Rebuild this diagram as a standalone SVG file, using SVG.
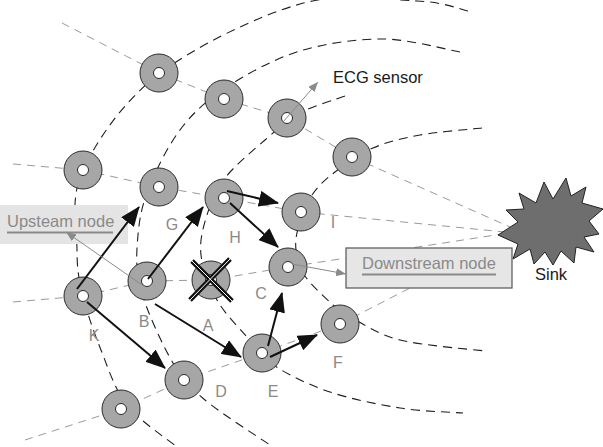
<svg xmlns="http://www.w3.org/2000/svg" width="603" height="447" viewBox="0 0 603 447">
<style>
.radial{fill:none;stroke:#9a9a9a;stroke-width:1;stroke-dasharray:8 6}
.arc{fill:none;stroke:#1e1e1e;stroke-width:1.1;stroke-dasharray:9 6}
.outer{fill:#a6a6a6;stroke:#2a2a2a;stroke-width:1}
.inner{fill:#fff;stroke:#2a2a2a;stroke-width:1}
.blk{fill:none;stroke:#111;stroke-width:2;marker-end:url(#bh)}
.gry{fill:none;stroke:#8a8a8a;stroke-width:1;marker-end:url(#gh)}
.lbl{font-family:"Liberation Sans",Arial,sans-serif;font-size:16px;fill:#8a8a8a;text-anchor:middle}
.txt{font-family:"Liberation Sans",Arial,sans-serif;font-size:16.5px}
</style>
<defs>
<marker id="bh" markerUnits="userSpaceOnUse" viewBox="0 0 20 16" markerWidth="20" markerHeight="16" refX="19" refY="8" orient="auto">
<path d="M0,0 L20,8 L0,16 Z" fill="#111"/>
</marker>
<marker id="gh" markerUnits="userSpaceOnUse" viewBox="0 0 10 8" markerWidth="10" markerHeight="8" refX="10" refY="4" orient="auto">
<path d="M0,0 L10,4 L0,8 Z" fill="#8a8a8a"/>
</marker>
<g id="nd">
<circle r="19" class="outer"/>
<circle r="5.5" class="inner"/>
</g>
</defs>

<g id="background-lines">
<polyline class="radial" points="62,23 159,73 224,99 287,118 352,157 510,227"/>
<polyline class="radial" points="13,164 83,170 159,187 224,198 301,212 505,232"/>
<polyline class="radial" points="13,302 83,296 147,281 211,280 288,267 502,234"/>
<polyline class="radial" points="25,440 121,409 184,380 262,353 340,324 410,288"/>
<path class="arc" d="M468,11 C459.5,9.3 445,2.2 417,1 C389,-0.2 343,-8.2 300,4 C257,16.2 195.2,46.3 159,74 C122.8,101.7 96.7,140.7 83,170 C69.3,199.3 77,229 77,250 C77,271 79,279.3 83,296 C87,312.7 93.7,331.8 101,350 C108.3,368.2 114.3,388.8 127,405 C139.7,421.2 168.7,440 177,447"/>
<path class="arc" d="M460,52 C447.2,49.8 409.7,39.2 383,39 C356.3,38.8 325.5,43.3 300,51 C274.5,58.7 249.5,72.5 230,85 C210.5,97.5 196.3,109.3 183,126 C169.7,142.7 157.5,166.8 150,185 C142.5,203.2 139.5,217.5 138,235 C136.5,252.5 135.2,268.7 141,290 C146.8,311.3 162.3,344.7 173,363 C183.7,381.3 188.3,386 205,400 C221.7,414 261.7,439.2 273,447"/>
<path class="arc" d="M345,96 C337.5,98.8 313.3,105.7 300,113 C286.7,120.3 277.5,129.2 265,140 C252.5,150.8 234.7,165.5 225,178 C215.3,190.5 211,202.2 207,215 C203,227.8 199.3,240.8 201,255 C202.7,269.2 209.3,286.3 217,300 C224.7,313.7 237.3,326 247,337 C256.7,348 261.2,356.8 275,366 C288.8,375.2 309.2,385 330,392 C350.8,399 377.8,404.5 400,408 C422.2,411.5 452.5,412.2 463,413"/>
<path class="arc" d="M482,128 C471.7,129.2 438.2,131.7 420,135 C401.8,138.3 387.2,141.8 373,148 C358.8,154.2 345.2,164.2 335,172 C324.8,179.8 318,186.2 312,195 C306,203.8 301.7,215.8 299,225 C296.3,234.2 295,241.5 296,250 C297,258.5 298.8,266.8 305,276 C311.2,285.2 325.2,297.7 333,305 C340.8,312.3 345,315 352,318 C363.2,323.8 377.8,334.5 400,340 C422.2,345.5 470.8,349.2 485,351"/>
</g>

<g id="upstream-box">
<rect x="0" y="205" width="128" height="39" fill="#e4e4e4"/>
<text class="txt" x="7" y="227" fill="#8a8a8a">Upsteam node</text>
<line x1="7" y1="232.5" x2="113" y2="232.5" stroke="#8a8a8a" stroke-width="1.8"/>
</g>
<g id="downstream-box">
<rect x="346" y="248" width="166" height="40" fill="#e6e6e6" stroke="#555" stroke-width="1.2"/>
<text class="txt" x="362" y="269" fill="#8a8a8a">Downstream node</text>
<line x1="362" y1="274.5" x2="496" y2="274.5" stroke="#8a8a8a" stroke-width="1.8"/>
</g>

<g id="sink">
<path d="M498,235 L518,222 L506,210 L524,209 L519,193 L536,203 L544,182 L553,199 L566,178 L571,196 L586,187 L582,203 L603,209 L589,221 L599,234 L584,237 L594,252 L576,247 L574,263 L561,251 L553,265 L545,252 L534,264 L530,249 L513,259 L518,244 Z" fill="#6e6e6e" stroke="#222" stroke-width="1"/>
<text class="txt" x="535" y="280" fill="#1a1a1a">Sink</text>
</g>

<g id="node-n1"><use href="#nd" x="159" y="73"/></g>
<g id="node-n2"><use href="#nd" x="224" y="99"/></g>
<g id="node-ecg"><use href="#nd" x="287" y="118"/></g>
<g id="node-n4"><use href="#nd" x="352" y="157"/></g>
<g id="node-n5"><use href="#nd" x="83" y="170"/></g>
<g id="node-g"><use href="#nd" x="159" y="187"/><text class="lbl" x="172" y="230">G</text></g>
<g id="node-h"><use href="#nd" x="224" y="198"/><text class="lbl" x="235" y="243">H</text></g>
<g id="node-i"><use href="#nd" x="301" y="212"/><text class="lbl" x="333" y="228">I</text></g>
<g id="node-c"><use href="#nd" x="288" y="267"/><text class="lbl" x="261" y="299">C</text></g>
<g id="node-a"><use href="#nd" x="211" y="280"/>
<line x1="192" y1="261" x2="232" y2="301" stroke="#111" stroke-width="5"/>
<line x1="230" y1="259" x2="190" y2="300" stroke="#111" stroke-width="5"/>
<line x1="192" y1="261" x2="232" y2="301" stroke="#fff" stroke-width="1"/>
<line x1="230" y1="259" x2="190" y2="300" stroke="#fff" stroke-width="1"/>
<text class="lbl" x="208" y="331">A</text></g>
<g id="node-b"><use href="#nd" x="147" y="281"/><text class="lbl" x="144" y="327">B</text></g>
<g id="node-k"><use href="#nd" x="83" y="296"/><text class="lbl" x="94" y="341">K</text></g>
<g id="node-e"><use href="#nd" x="262" y="353"/><text class="lbl" x="273" y="397">E</text></g>
<g id="node-f"><use href="#nd" x="340" y="324"/><text class="lbl" x="338" y="368">F</text></g>
<g id="node-d"><use href="#nd" x="184" y="380"/><text class="lbl" x="221" y="397">D</text></g>
<g id="node-n16"><use href="#nd" x="121" y="409"/></g>

<g id="connectors">
<line class="blk" x1="77" y1="289" x2="139" y2="207"/>
<line class="blk" x1="148" y1="279" x2="203" y2="207"/>
<line class="blk" x1="227" y1="191" x2="278" y2="203"/>
<line class="blk" x1="230" y1="203" x2="278" y2="247"/>
<line class="blk" x1="155" y1="304" x2="241" y2="357"/>
<line class="blk" x1="87" y1="302" x2="165" y2="368"/>
<line class="blk" x1="268" y1="346" x2="282" y2="293"/>
<line class="blk" x1="270" y1="357" x2="317" y2="335"/>
<line class="gry" x1="145" y1="287" x2="66" y2="232"/>
<line class="gry" x1="292" y1="264" x2="346" y2="274"/>
<line class="gry" x1="283" y1="122" x2="318" y2="82"/>
</g>
<text class="txt" x="333" y="83" fill="#1a1a1a">ECG sensor</text>
</svg>
